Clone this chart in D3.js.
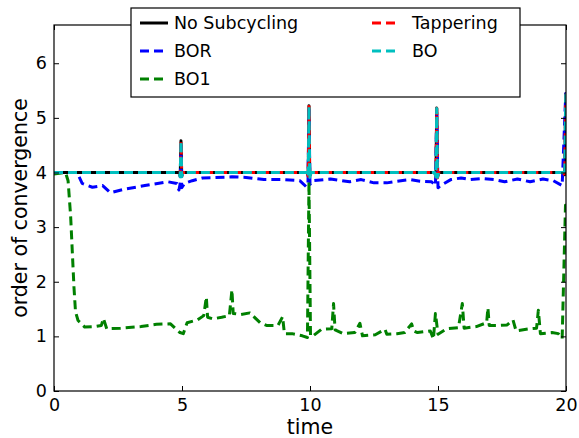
<!DOCTYPE html>
<html><head><meta charset="utf-8">
<script src="https://cdn.jsdelivr.net/npm/d3@7/dist/d3.min.js"></script>
<style>body{margin:0;background:#fff}svg{display:block;font-family:"DejaVu Sans",sans-serif}</style>
</head><body>
<svg id="c" width="579" height="438"></svg>
<script>
const xTicks = [0, 5, 10, 15, 20];
const yTicks = [0, 1, 2, 3, 4, 5, 6];
const seriesNames = ["No Subcycling", "BOR", "BO1", "Tappering", "BO"];

const noSubcycling = [[0,4.0],[4.88,4.0],[4.93,3.94],[4.96,4.58],[4.99,3.94],[5.04,4.0],[9.88,4.0],[9.93,3.94],[9.96,5.22],[9.99,3.93],[10.04,4.0],[14.87,4.0],[14.92,3.94],[14.95,5.18],[14.98,3.93],[15.03,4.0],[19.9,4.0],[19.95,3.96],[19.99,5.44],[20,5.44]];
const tappering = [[0,4.0],[4.88,4.0],[4.93,3.93],[4.96,4.57],[4.99,3.93],[5.04,4.0],[9.88,4.0],[9.93,3.93],[9.96,5.21],[9.99,3.9],[10.04,4.0],[14.87,4.0],[14.92,3.92],[14.95,5.17],[14.98,3.9],[15.03,4.0],[19.9,4.0],[19.95,3.95],[19.99,5.42],[20,5.42]];
const bo = [[0,4.0],[4.88,4.0],[4.93,3.92],[4.96,4.58],[4.99,3.92],[5.04,4.0],[9.88,4.0],[9.93,3.92],[9.96,5.21],[9.99,3.91],[10.04,4.0],[14.87,4.0],[14.92,3.92],[14.95,5.17],[14.98,3.91],[15.03,4.0],[19.9,4.0],[19.95,3.95],[19.99,5.42],[20,5.42]];
const bor = [[0,4.0],[0.5,4.0],[0.9,4.0],[1.1,3.8],[1.5,3.73],[1.9,3.76],[2.2,3.63],[2.8,3.7],[3.55,3.76],[4.45,3.83],[4.8,3.8],[4.88,3.68],[4.93,3.8],[4.96,4.5],[4.99,3.72],[5.1,3.8],[5.4,3.85],[5.8,3.9],[6.95,3.92],[7.5,3.91],[8.2,3.87],[8.9,3.87],[9.6,3.85],[9.85,3.74],[9.92,3.8],[9.96,5.15],[10.0,3.78],[10.1,3.85],[10.8,3.88],[11.55,3.83],[12.0,3.87],[12.5,3.81],[13.0,3.81],[13.4,3.84],[13.9,3.87],[14.3,3.84],[14.75,3.83],[14.9,3.76],[14.95,5.1],[15.0,3.72],[15.1,3.76],[15.5,3.87],[15.9,3.9],[16.25,3.87],[16.75,3.89],[17.2,3.87],[17.6,3.83],[18.1,3.88],[18.6,3.83],[19.1,3.88],[19.5,3.85],[19.85,3.76],[19.99,5.44],[20,5.44]];
const bo1 = [[0,3.97],[0.45,4.0],[0.55,3.85],[0.65,3.2],[0.72,2.5],[0.78,1.9],[0.84,1.45],[0.94,1.29],[1.2,1.17],[1.6,1.18],[1.85,1.2],[1.93,1.33],[2.06,1.14],[2.6,1.15],[3.4,1.18],[4.0,1.22],[4.55,1.23],[4.75,1.14],[4.92,1.07],[5.05,1.05],[5.2,1.25],[5.6,1.3],[5.85,1.38],[5.95,1.72],[6.0,1.35],[6.2,1.32],[6.55,1.35],[6.85,1.38],[6.95,1.85],[7.0,1.42],[7.3,1.4],[7.65,1.43],[8.05,1.25],[8.3,1.2],[8.75,1.2],[8.93,1.36],[9.0,1.05],[9.3,1.05],[9.7,1.01],[9.9,0.98],[9.96,3.83],[10.02,1.0],[10.15,1.02],[10.45,1.13],[10.85,1.14],[10.92,1.6],[10.98,1.12],[11.3,1.05],[11.75,1.07],[11.95,1.24],[12.05,1.01],[12.55,1.03],[12.93,1.13],[13.0,1.04],[13.4,1.05],[13.7,1.07],[13.97,1.23],[14.05,1.1],[14.2,1.07],[14.7,1.1],[14.82,0.95],[14.9,1.42],[15.0,1.04],[15.35,1.14],[15.8,1.16],[15.95,1.6],[16.02,1.15],[16.5,1.18],[16.9,1.25],[16.95,1.52],[17.0,1.2],[17.35,1.2],[17.7,1.21],[17.93,1.3],[18.05,1.1],[18.6,1.14],[18.85,1.15],[18.92,1.48],[19.0,1.05],[19.45,1.07],[19.7,1.05],[19.85,0.96],[19.98,3.4],[20,3.4]];

const seriesData = [noSubcycling, bor, bo1, tappering, bo];
const colors = ["#000000", "#0000ff", "#008000", "#ff0000", "#00bfbf"];
const dashes = [null, "9,5", "9,5", "9,5", "9,5"];

const svg = d3.select("#c");
const L = 54, R = 566, T = 25, B = 391;
const x = d3.scaleLinear().domain([0, 20]).range([L, R]);
const y = d3.scaleLinear().domain([0, 6.7]).range([B, T]);

svg.append("defs").append("clipPath").attr("id", "clip")
  .append("rect").attr("x", L).attr("y", T).attr("width", R - L).attr("height", B - T);

const line = d3.line().x(d => x(d[0])).y(d => y(d[1]));
const g = svg.append("g").attr("clip-path", "url(#clip)");
seriesData.forEach((s, i) => {
  g.append("path").datum(s).attr("d", line)
    .attr("fill", "none").attr("stroke", colors[i]).attr("stroke-width", 3)
    .attr("stroke-dasharray", dashes[i]).attr("stroke-linejoin", "round");
});

const fs = 17.5;
const axB = svg.append("g").attr("transform", `translate(0,${B})`)
  .call(d3.axisBottom(x).tickValues(xTicks).tickSize(-5).tickPadding(8).tickFormat(d3.format("d")));
const axT = svg.append("g").attr("transform", `translate(0,${T})`)
  .call(d3.axisTop(x).tickValues(xTicks).tickSize(-5).tickFormat(""));
const axL = svg.append("g").attr("transform", `translate(${L},0)`)
  .call(d3.axisLeft(y).tickValues(yTicks).tickSize(-5).tickPadding(7).tickFormat(d3.format("d")));
const axR = svg.append("g").attr("transform", `translate(${R},0)`)
  .call(d3.axisRight(y).tickValues(yTicks).tickSize(-5).tickFormat(""));
[axB, axT, axL, axR].forEach(a => {
  a.select(".domain").remove();
  a.selectAll("line").attr("stroke", "#000").attr("stroke-width", 1);
  a.selectAll("text").attr("font-size", fs).attr("font-family", "DejaVu Sans").attr("fill", "#000");
});
svg.append("rect").attr("x", L).attr("y", T).attr("width", R - L).attr("height", B - T)
  .attr("fill", "none").attr("stroke", "#000").attr("stroke-width", 1.2);

svg.append("text").attr("x", (L + R) / 2).attr("y", 434).attr("text-anchor", "middle")
  .attr("font-size", 20.5).text("time");
svg.append("text").attr("transform", `translate(27,${(T + B) / 2}) rotate(-90)`)
  .attr("text-anchor", "middle").attr("font-size", 20.5).text("order of convergence");

const lg = svg.append("g");
lg.append("rect").attr("x", 131).attr("y", 8).attr("width", 389).attr("height", 89)
  .attr("fill", "#fff").attr("stroke", "#000").attr("stroke-width", 1.2);
const cols = [[140, 174], [372, 412]];
seriesNames.forEach((n, i) => {
  const c = i < 3 ? 0 : 1, r = i < 3 ? i : i - 3;
  const yy = 23 + r * 28;
  lg.append("line").attr("x1", cols[c][0]).attr("x2", cols[c][0] + 28).attr("y1", yy).attr("y2", yy)
    .attr("stroke", colors[i]).attr("stroke-width", 3).attr("stroke-dasharray", dashes[i]);
  lg.append("text").attr("x", cols[c][1]).attr("y", yy).attr("dy", "0.35em")
    .attr("font-size", fs).text(n);
});
</script>
</body></html>
